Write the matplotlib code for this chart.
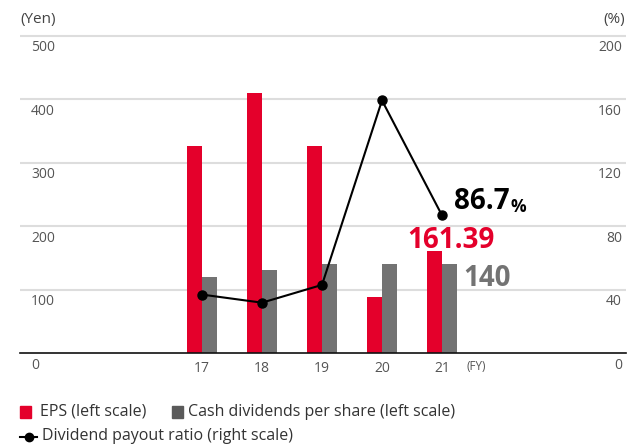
import matplotlib
matplotlib.use('Agg')
import matplotlib.pyplot as plt
from matplotlib.patches import Rectangle
from matplotlib.lines import Line2D
import numpy as np

plt.rcParams['font.family'] = ['Open Sans', 'DejaVu Sans']

# ---- data ----
years = ['17', '18', '19', '20', '21']
eps = [326, 410, 326, 88, 161.39]
dividends = [120, 130, 140, 140, 140]
payout = [36.8, 31.7, 42.9, 159.1, 86.7]
left_ticks = [0, 100, 200, 300, 400, 500]
right_ticks = [0, 40, 80, 120, 160, 200]

RED = '#E4002B'
GRAY = '#737373'
TXT = '#555555'

W, H = 630, 447
fig = plt.figure(figsize=(W / 100, H / 100), dpi=100)

px_per_unit = (353 - 35.5) / 500
ytop = 505
ax = fig.add_axes([20 / W, (H - 353) / H, (626 - 20) / W, ytop * px_per_unit / H])

x = np.arange(len(years))
bw = 0.25
ax.bar(x - bw / 2, eps, width=bw, color=RED, zorder=2)
ax.bar(x + bw / 2, dividends, width=bw, color=GRAY, zorder=2)
ax.set_xlim((20 - 202) / 60, (626 - 202) / 60)
ax.set_ylim(0, ytop)

for v in left_ticks[1:]:
    ax.axhline(v, color='#dddddd', lw=1.5, zorder=0)

for s in ['top', 'left', 'right']:
    ax.spines[s].set_visible(False)
ax.spines['bottom'].set_color('#111111')
ax.spines['bottom'].set_linewidth(1.2)
ax.set_yticks([])
ax.set_xticks(x)
ax.set_xticklabels(years, fontsize=10, color=TXT)
ax.tick_params(axis='x', length=0, pad=6)

ytr = ax.get_yaxis_transform()
for v in left_ticks:
    ax.annotate(str(v), xy=(0.018, v), xycoords=ytr, xytext=(0, -3.5),
                textcoords='offset points', ha='left', va='top',
                fontsize=10, color=TXT)
for v in right_ticks:
    ax.annotate(str(v), xy=(0.993, v * 500 / 200), xycoords=ytr, xytext=(0, -3.5),
                textcoords='offset points', ha='right', va='top',
                fontsize=10, color=TXT)

ax.annotate('(FY)', xy=(x[-1], 0), xytext=(17.5, -10), textcoords='offset points',
            ha='left', va='center', fontsize=8.5, color=TXT)

fig.text(20 / W, 1 - 20 / H, '(Yen)', ha='left', va='center', fontsize=11, color='#444444')
fig.text(625 / W, 1 - 20 / H, '(%)', ha='right', va='center', fontsize=11, color='#444444')

ax2 = ax.twinx()
ax2.set_ylim(0, ytop * 200 / 500)
ax2.plot(x, payout, color='black', lw=1.5, marker='o', ms=6.5, zorder=3)
ax2.set_yticks([])
for s in ax2.spines.values():
    s.set_visible(False)

t1 = ax2.annotate(f'{payout[-1]:.1f}', xy=(x[-1], payout[-1]), xytext=(8.4, 4.5),
                  textcoords='offset points', ha='left', va='baseline',
                  fontsize=20, fontweight='bold', color='black')
ax2.annotate('%', xy=(1, 0), xycoords=t1, xytext=(1, 0), textcoords='offset points',
             ha='left', va='bottom', fontsize=12.5, fontweight='bold', color='black')
ax.annotate(f'{eps[-1]:.2f}', xy=(x[-1], eps[-1]), xytext=(-25.2, 1.8),
            textcoords='offset points', ha='left', va='baseline',
            fontsize=20, fontweight='bold', color=RED)
ax.annotate(f'{dividends[-1]}', xy=(x[-1] + bw, dividends[-1]), xytext=(4.8, -15.8),
            textcoords='offset points', ha='left', va='baseline',
            fontsize=20, fontweight='bold', color=GRAY)

# legend (manual)
LFS = 11.5
fig.add_artist(Rectangle((20 / W, 1 - 418 / H), 11 / W, 12 / H, transform=fig.transFigure,
                         color=RED))
fig.text(40 / W, 1 - 412 / H, 'EPS (left scale)', ha='left', va='center', fontsize=LFS, color='#333333')
fig.add_artist(Rectangle((172 / W, 1 - 418 / H), 11 / W, 12 / H, transform=fig.transFigure,
                         color='#5a5a5a'))
fig.text(188 / W, 1 - 412 / H, 'Cash dividends per share (left scale)', ha='left', va='center',
         fontsize=LFS, color='#333333')
fig.add_artist(Line2D([20 / W, 37 / W], [1 - 437 / H, 1 - 437 / H], transform=fig.transFigure,
                      color='black', lw=1.5))
fig.add_artist(Line2D([29 / W], [1 - 437 / H], transform=fig.transFigure,
                      color='black', marker='o', ms=6))
fig.text(42 / W, 1 - 436 / H, 'Dividend payout ratio (right scale)', ha='left', va='center',
         fontsize=LFS, color='#333333')

fig.savefig('out.png', dpi=100)
